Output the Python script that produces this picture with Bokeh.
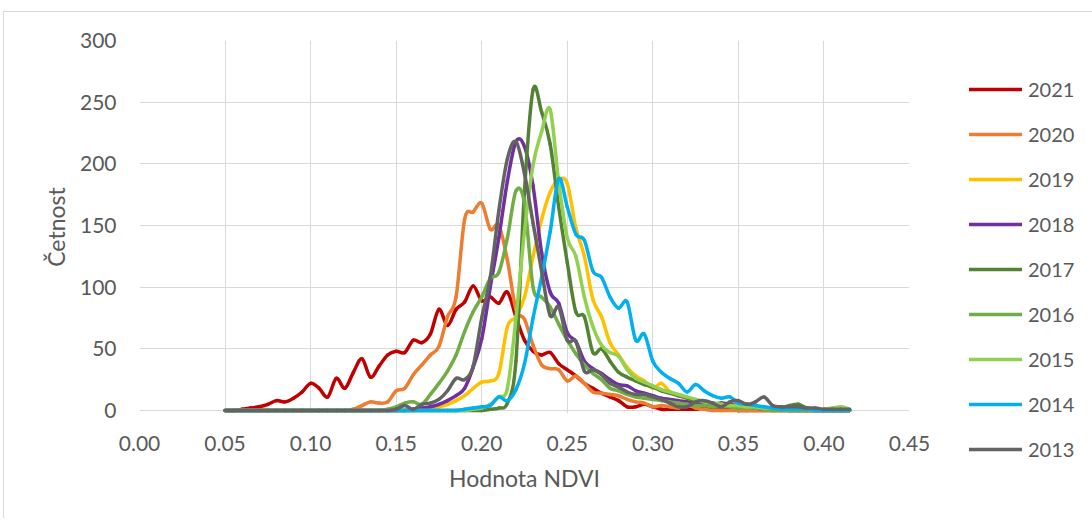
import numpy as np
from bokeh.plotting import figure
from bokeh.models import Range1d, FixedTicker, NumeralTickFormatter, Legend, LegendItem, ColumnDataSource
from bokeh.embed import file_html
from bokeh.resources import INLINE

# NDVI bins (0.050 ... 0.415, step 0.005)
ndvi = [round(0.05 + 0.005 * i, 3) for i in range(74)]

y2021 = [0, 0, 1, 2, 3, 5, 8, 7, 10, 15,
         22, 18, 11, 26, 18, 31, 42, 27, 36, 45,
         48, 47, 57, 55, 62, 82, 69, 82, 88, 101,
         89, 92, 87, 96, 76, 57, 48, 45, 47, 38,
         33, 28, 22, 18, 14, 11, 8, 3, 3, 5,
         3, 1, 1, 1, 1, 1, 2, 1, 1, 1,
         0, 0, 0, 0, 0, 0, 0, 0, 0, 0,
         0, 0, 0, 0]
y2020 = [0, 0, 0, 0, 0, 0, 0, 0, 0, 0,
         0, 0, 0, 0, 0, 1, 4, 7, 6, 7,
         16, 18, 29, 37, 45, 52, 76, 92, 155, 161,
         168, 147, 150, 122, 82, 74, 53, 37, 34, 33,
         24, 28, 22, 15, 14, 13, 12, 9, 7, 6,
         3, 4, 3, 2, 5, 2, 1, 0, 0, 0,
         0, 0, 0, 0, 0, 0, 0, 0, 0, 0,
         0, 0, 0, 0]
y2019 = [0, 0, 0, 0, 0, 0, 0, 0, 0, 0,
         0, 0, 0, 0, 0, 0, 0, 0, 0, 0,
         0, 0, 0, 1, 2, 3, 5, 8, 12, 18,
         23, 24, 30, 68, 76, 92, 125, 155, 177, 187,
         184, 148, 125, 90, 76, 55, 45, 35, 28, 24,
         18, 22, 15, 12, 10, 8, 6, 5, 4, 4,
         3, 3, 2, 2, 2, 1, 1, 0, 0, 0,
         1, 1, 0, 0]
y2018 = [0, 0, 0, 0, 0, 0, 0, 0, 0, 0,
         0, 0, 0, 0, 0, 0, 0, 0, 0, 0,
         0, 0, 1, 2, 3, 5, 8, 12, 18, 35,
         58, 100, 140, 186, 218, 214, 182, 128, 96, 87,
         63, 56, 40, 34, 30, 25, 21, 20, 16, 14,
         12, 10, 9, 8, 7, 6, 5, 5, 6, 5,
         4, 3, 2, 1, 1, 1, 0, 0, 0, 0,
         0, 0, 0, 0]
y2017 = [0, 0, 0, 0, 0, 0, 0, 0, 0, 0,
         0, 0, 0, 0, 0, 0, 0, 0, 0, 0,
         0, 0, 0, 0, 0, 0, 0, 0, 0, 0,
         0, 1, 2, 6, 40, 178, 260, 242, 216, 165,
         120, 80, 76, 47, 50, 40, 31, 27, 24, 21,
         19, 16, 14, 12, 10, 8, 7, 6, 5, 4,
         3, 3, 2, 2, 2, 2, 4, 5, 2, 1,
         0, 0, 0, 0]
y2016 = [0, 0, 0, 0, 0, 0, 0, 0, 0, 0,
         0, 0, 0, 0, 0, 0, 0, 0, 0, 1,
         3, 6, 7, 5, 13, 22, 32, 45, 64, 80,
         92, 107, 112, 140, 178, 168, 100, 92, 84, 70,
         57, 46, 37, 30, 25, 18, 16, 13, 11, 10,
         9, 8, 7, 6, 5, 4, 4, 3, 3, 3,
         2, 2, 2, 1, 0, 0, 0, 0, 0, 0,
         0, 0, 0, 0]
y2015 = [0, 0, 0, 0, 0, 0, 0, 0, 0, 0,
         0, 0, 0, 0, 0, 0, 0, 0, 0, 0,
         0, 0, 0, 0, 0, 0, 0, 0, 0, 1,
         2, 5, 11, 18, 75, 145, 199, 226, 244, 185,
         140, 125, 92, 68, 53, 47, 44, 33, 26, 23,
         20, 17, 15, 13, 11, 9, 7, 6, 5, 4,
         4, 3, 3, 2, 2, 2, 1, 1, 1, 0,
         1, 2, 3, 1]
y2014 = [0, 0, 0, 0, 0, 0, 0, 0, 0, 0,
         0, 0, 0, 0, 0, 0, 0, 0, 0, 0,
         0, 0, 0, 0, 0, 0, 0, 0, 1, 2,
         3, 4, 11, 8, 17, 38, 75, 108, 145, 188,
         165, 143, 138, 113, 108, 92, 83, 88, 57, 62,
         40, 31, 26, 22, 15, 21, 16, 12, 10, 11,
         6, 5, 4, 3, 2, 1, 1, 1, 1, 0,
         0, 0, 0, 0]
y2013 = [0, 0, 0, 0, 0, 0, 0, 0, 0, 0,
         0, 0, 0, 0, 0, 0, 0, 0, 0, 0,
         1, 4, 1, 5, 6, 9, 16, 26, 25, 36,
         75, 108, 162, 204, 218, 192, 152, 113, 77, 84,
         57, 56, 32, 33, 29, 22, 19, 15, 13, 13,
         11, 9, 6, 3, 3, 7, 8, 6, 3, 7,
         8, 5, 7, 11, 4, 3, 3, 3, 2, 2,
         1, 1, 1, 1]

years = ["2021", "2020", "2019", "2018", "2017", "2016", "2015", "2014", "2013"]
series = [y2021, y2020, y2019, y2018, y2017, y2016, y2015, y2014, y2013]
colors = ["#C00000", "#ED7D31", "#FFC000", "#7030A0", "#548235",
          "#70AD47", "#92D050", "#00B0F0", "#636363"]

x_ticks = [0.0, 0.05, 0.10, 0.15, 0.20, 0.25, 0.30, 0.35, 0.40, 0.45]
y_ticks = [0, 50, 100, 150, 200, 250, 300]

FONT = "Lato"
TXT = "#595959"
GRID = "#D9D9D9"

p = figure(frame_width=770, frame_height=373,
           x_range=Range1d(0, 0.45), y_range=Range1d(-300 * 3 / 370, 300),
           output_backend="svg", toolbar_location=None,
           min_border_left=139, min_border_top=40,
           min_border_right=181, min_border_bottom=105)
p.outline_line_color = None
p.background_fill_color = "white"
p.border_fill_alpha = 0
p.styles = {
    "background-color": "white",
    "background-image": "linear-gradient(#D9D9D9, #D9D9D9), linear-gradient(#D9D9D9, #D9D9D9)",
    "background-size": "1px 100%, 100% 1px",
    "background-position": "3px 11px, 3px 11px",
    "background-repeat": "no-repeat",
}

p.xgrid.grid_line_color = GRID
p.ygrid.grid_line_color = GRID
p.xgrid.grid_line_width = 1
p.ygrid.grid_line_width = 1

p.xaxis.ticker = FixedTicker(ticks=x_ticks)
p.yaxis.ticker = FixedTicker(ticks=y_ticks)
p.xaxis.formatter = NumeralTickFormatter(format="0.00")
for ax in (p.xaxis, p.yaxis):
    ax.axis_line_color = None
    ax.major_tick_line_color = None
    ax.minor_tick_line_color = None
    ax.major_label_text_font = FONT
    ax.major_label_text_font_size = "21px"
    ax.major_label_text_color = TXT
    ax.axis_label_text_font = FONT
    ax.axis_label_text_font_size = "23px"
    ax.axis_label_text_color = TXT
    ax.axis_label_text_font_style = "normal"
p.xaxis.major_label_standoff = 16
p.yaxis.major_label_standoff = 17
p.xaxis.axis_label = "Hodnota NDVI"
p.yaxis.axis_label = "Četnost"
p.xaxis.axis_label_standoff = 10
p.yaxis.axis_label_standoff = 7


def bezier_cols(xs, ys):
    x = np.asarray(xs, dtype=float)
    y = np.asarray(ys, dtype=float)
    n = len(x)
    xp = np.concatenate([[x[0]], x, [x[-1]]])
    yp = np.concatenate([[y[0]], y, [y[-1]]])
    i = np.arange(n - 1)
    cx0 = x[i] + (xp[i + 2] - xp[i]) / 6.0
    cy0 = y[i] + (yp[i + 2] - yp[i]) / 6.0
    cx1 = x[i + 1] - (xp[i + 3] - xp[i + 1]) / 6.0
    cy1 = y[i + 1] - (yp[i + 3] - yp[i + 1]) / 6.0
    return dict(x0=x[i], y0=y[i], x1=x[i + 1], y1=y[i + 1],
                cx0=cx0, cy0=cy0, cx1=cx1, cy1=cy1)


items = []
for yr, vals, col in zip(years, series, colors):
    src = ColumnDataSource(bezier_cols(ndvi, vals))
    r = p.bezier(x0="x0", y0="y0", x1="x1", y1="y1", cx0="cx0", cy0="cy0",
                 cx1="cx1", cy1="cy1", source=src, line_color=col,
                 line_width=3.5, line_cap="round")
    items.append(LegendItem(label=yr, renderers=[r]))

legend = Legend(items=items, location=(60, -48))
legend.padding = 0
legend.margin = 0
legend.spacing = 21
legend.glyph_width = 53
legend.glyph_height = 24
legend.label_height = 24
legend.label_standoff = 6
legend.label_text_font = FONT
legend.label_text_font_size = "20px"
legend.label_text_color = TXT
legend.border_line_color = None
legend.background_fill_alpha = 0
p.add_layout(legend, "right")

open("out.html", "w").write(file_html(p, INLINE))
